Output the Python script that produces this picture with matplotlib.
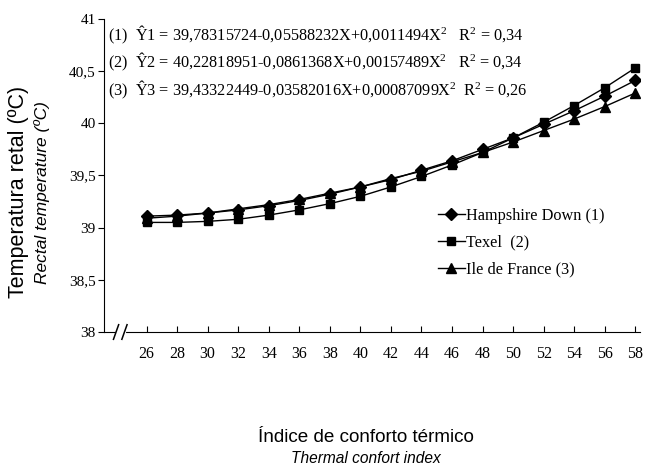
import matplotlib
matplotlib.use("Agg")
import matplotlib.pyplot as plt

# indice de conforto termico
x_icc = [26, 28, 30, 32, 34, 36, 38, 40, 42, 44, 46, 48, 50, 52, 54, 56, 58]

# temperatura retal por raca
hampshire = [39.11, 39.12, 39.14, 39.17, 39.21, 39.26, 39.32, 39.39, 39.46, 39.55,
             39.64, 39.75, 39.86, 39.99, 40.12, 40.26, 40.41]
texel = [39.05, 39.05, 39.06, 39.08, 39.12, 39.17, 39.23, 39.30, 39.39, 39.49,
         39.60, 39.72, 39.86, 40.01, 40.17, 40.34, 40.53]
ile_france = [39.09, 39.11, 39.14, 39.18, 39.22, 39.27, 39.33, 39.39, 39.47, 39.54,
              39.63, 39.72, 39.82, 39.93, 40.04, 40.16, 40.29]

labels = ["Hampshire Down (1)", "Texel  (2)", "Ile de France (3)"]
equations = [
    "(1)  Ŷ1 = 39,78315724-0,05588232X+0,0011494X$^2$   R$^2$ = 0,34",
    "(2)  Ŷ2 = 40,22818951-0,0861368X+0,00157489X$^2$   R$^2$ = 0,34",
    "(3)  Ŷ3 = 39,43322449-0,03582016X+0,00087099X$^2$  R$^2$ = 0,26",
]
y_ticks = [38, 38.5, 39, 39.5, 40, 40.5, 41]
y_ticklabels = ["38", "38,5", "39", "39,5", "40", "40,5", "41"]

serif = "Liberation Serif"
sans = "Liberation Sans"
plt.rcParams["mathtext.fontset"] = "custom"
plt.rcParams["mathtext.rm"] = serif
plt.rcParams["mathtext.it"] = serif + ":italic"

fig = plt.figure(figsize=(6.45, 4.72), dpi=100)
ax = fig.add_axes([0.161, 0.2966, 0.831, 0.6634])

ax.plot(x_icc, hampshire, color="black", lw=1, marker="D", ms=6, label=labels[0])
ax.plot(x_icc, texel, color="black", lw=1, marker="s", ms=6, label=labels[1])
ax.plot(x_icc, ile_france, color="black", lw=1, marker="^", ms=7, label=labels[2])

ax.set_xlim(23.2, 58.3)
ax.set_ylim(38, 41)
ax.set_xticks(x_icc)
ax.set_xticklabels([str(v) for v in x_icc], fontfamily=serif, fontsize=11.5)
ax.set_yticks(y_ticks)
ax.set_yticklabels(y_ticklabels, fontfamily=serif, fontsize=11)
ax.tick_params(axis="x", direction="in", length=4, pad=10)
ax.tick_params(axis="y", direction="out", length=4, pad=2)

ax.spines["top"].set_visible(False)
ax.spines["right"].set_visible(False)

# quebra do eixo x
ax.plot([24.1, 24.5], [38, 38], color="white", lw=3, clip_on=False, zorder=5)
for xb in [24.0, 24.55]:
    ax.plot([xb - 0.17, xb + 0.17], [37.93, 38.07], color="black", lw=1.1,
            clip_on=False, zorder=6)

for i, eq in enumerate(equations):
    ax.text(0.008, [0.949, 0.863, 0.773][i], eq, transform=ax.transAxes,
            fontfamily=serif, fontsize=11.7, va="center")

ax.legend(loc="upper left", bbox_to_anchor=(0.623, 0.397), frameon=False,
          prop={"family": serif, "size": 11.7}, handlelength=1.65,
          handletextpad=0.1, labelspacing=0.68, borderpad=0, borderaxespad=0)

fig.text(0.028, 0.593, "Temperatura retal (ºC)", rotation=90, fontfamily=sans,
         fontsize=15.5, ha="center", va="center")
fig.text(0.065, 0.593, "Rectal temperature (ºC)", rotation=90, fontfamily=sans,
         fontsize=12.5, style="italic", ha="center", va="center")
fig.text(0.568, 0.074, "Índice de conforto térmico", fontfamily=sans,
         fontsize=13.6, ha="center", va="center")
fig.text(0.568, 0.029, "Thermal confort index", fontfamily=sans,
         fontsize=11.2, style="italic", ha="center", va="center")

fig.savefig("out.png", dpi=100)
